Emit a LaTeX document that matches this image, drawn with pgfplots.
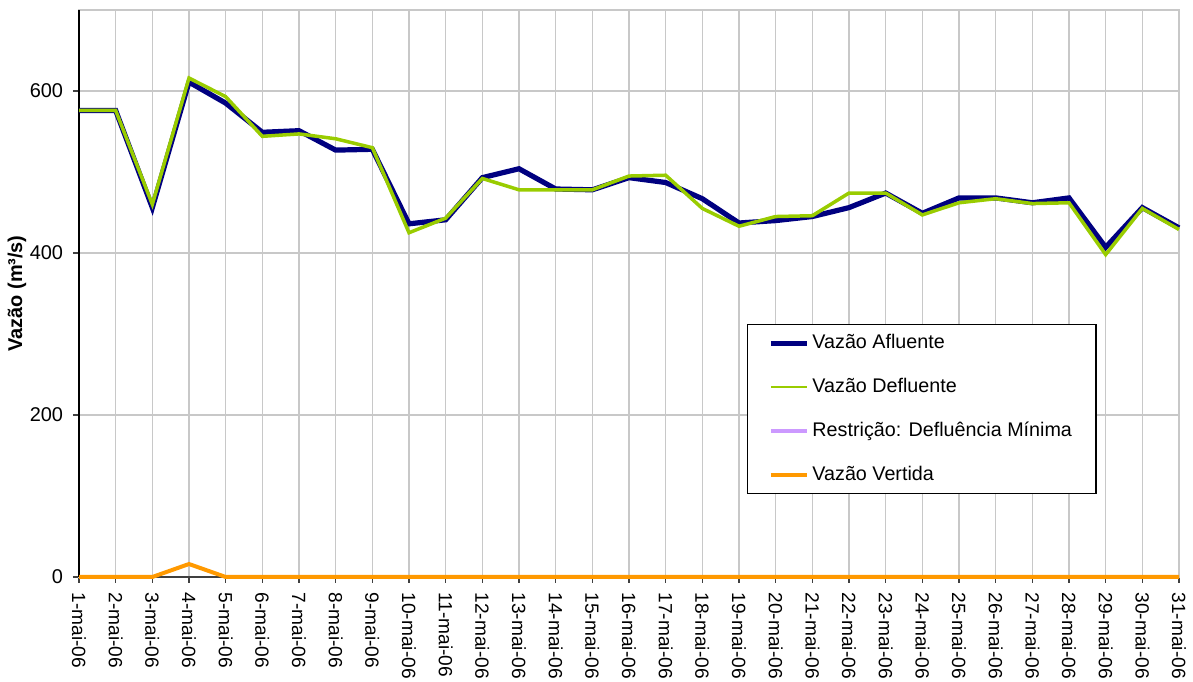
\documentclass[border=0pt]{standalone}
\usepackage{fontspec}
\setmainfont{Liberation Sans}
\usepackage{pgfplots}
\pgfplotsset{compat=1.18}
\usetikzlibrary{calc}

\definecolor{afl}{HTML}{000080}
\definecolor{defl}{HTML}{99CC00}
\definecolor{restr}{HTML}{CC99FF}
\definecolor{vert}{HTML}{FF9900}
\definecolor{gridc}{HTML}{C8C8C8}

% day, afluente, defluente, vertida
\pgfplotstableread{
d afl def vert
1 576 576 0
2 576 576 0
3 456 460 0
4 611 616 16
5 585 593 0
6 549 544 0
7 551 547 0
8 527 541 0
9 528 530 0
10 436 425 0
11 441 443 0
12 493 492 0
13 504 478 0
14 479 478 0
15 478 478 0
16 493 495 0
17 487 496 0
18 467 455 0
19 437 433 0
20 440 445 0
21 445 446 0
22 456 474 0
23 474 474 0
24 449 447 0
25 468 462 0
26 468 467 0
27 462 461 0
28 468 462 0
29 407 398 0
30 456 455 0
31 431 429 0
}\vazoes

\newcommand{\lblfont}{\fontsize{10}{11.5}\selectfont}
\newcommand{\xlblfont}{\fontsize{9.6}{11}\selectfont}
\newcommand{\legfont}{\fontsize{9.9}{11.5}\selectfont}

\begin{document}
\begin{tikzpicture}
\begin{axis}[
    scale only axis,
    width=550bp, height=283.5bp,
    xmin=1, xmax=31, ymin=0, ymax=700,
    xtick={1,...,31},
    xticklabel={\pgfmathprintnumber[assume math mode=true]{\tick}-mai-06},
    ytick={0,200,400,600},
    yticklabel={\pgfmathprintnumber[assume math mode=true]{\tick}},
    /pgf/number format/assume math mode=true,
    tick align=outside, tick pos=left,
    major tick length=3bp,
    tick style={black!75, line width=0.6bp},
    xmajorgrids, ymajorgrids,
    grid style={gridc, line width=0.6bp},
    axis line style={gridc, line width=0.6bp},
    clip=false,
    x tick label style={rotate=-90, anchor=west, font=\xlblfont, inner xsep=4.6bp},
    y tick label style={font=\lblfont, inner xsep=4.8bp},
    ylabel={\bfseries Vazão (m³/s)},
    every axis y label/.style={at={(axis description cs:0,0.5)}, xshift=-31bp, rotate=90, anchor=center, font=\lblfont},
    legend cell align=left,
    legend image code/.code={\draw[#1] (0bp,0bp) -- (18bp,0bp);},
    legend style={at={(rel axis cs:0.607,0.446)}, anchor=north west,
        draw=black, line width=0.6bp, font=\legfont,
        inner xsep=10.5bp, inner ysep=3bp, row sep=9.3bp,
        nodes={inner xsep=1.5bp}},
]
\draw[black, line width=0.7bp] (rel axis cs:0,0) -- (rel axis cs:0,1);
\draw[black!75, line width=0.7bp] (rel axis cs:0,0) -- (rel axis cs:1,0);
\addplot[afl, line width=2.6bp] table[x=d, y=afl] {\vazoes};
\addlegendentry{Vazão Afluente}
\addplot[defl, line width=1.75bp, legend image post style={line width=1.1bp}] table[x=d, y=def] {\vazoes};
\addlegendentry{Vazão Defluente}
\addlegendimage{restr, line width=2bp}
\addlegendentry{Restrição: Defluência Mínima}
\addplot[vert, line width=2bp] table[x=d, y=vert] {\vazoes};
\addlegendentry{Vazão Vertida}
\end{axis}
\pgfresetboundingbox
\useasboundingbox ($(current axis.south west)+(-39.5bp,-52.5bp)$) rectangle ($(current axis.north east)+(7bp,5bp)$);
\end{tikzpicture}
\end{document}
